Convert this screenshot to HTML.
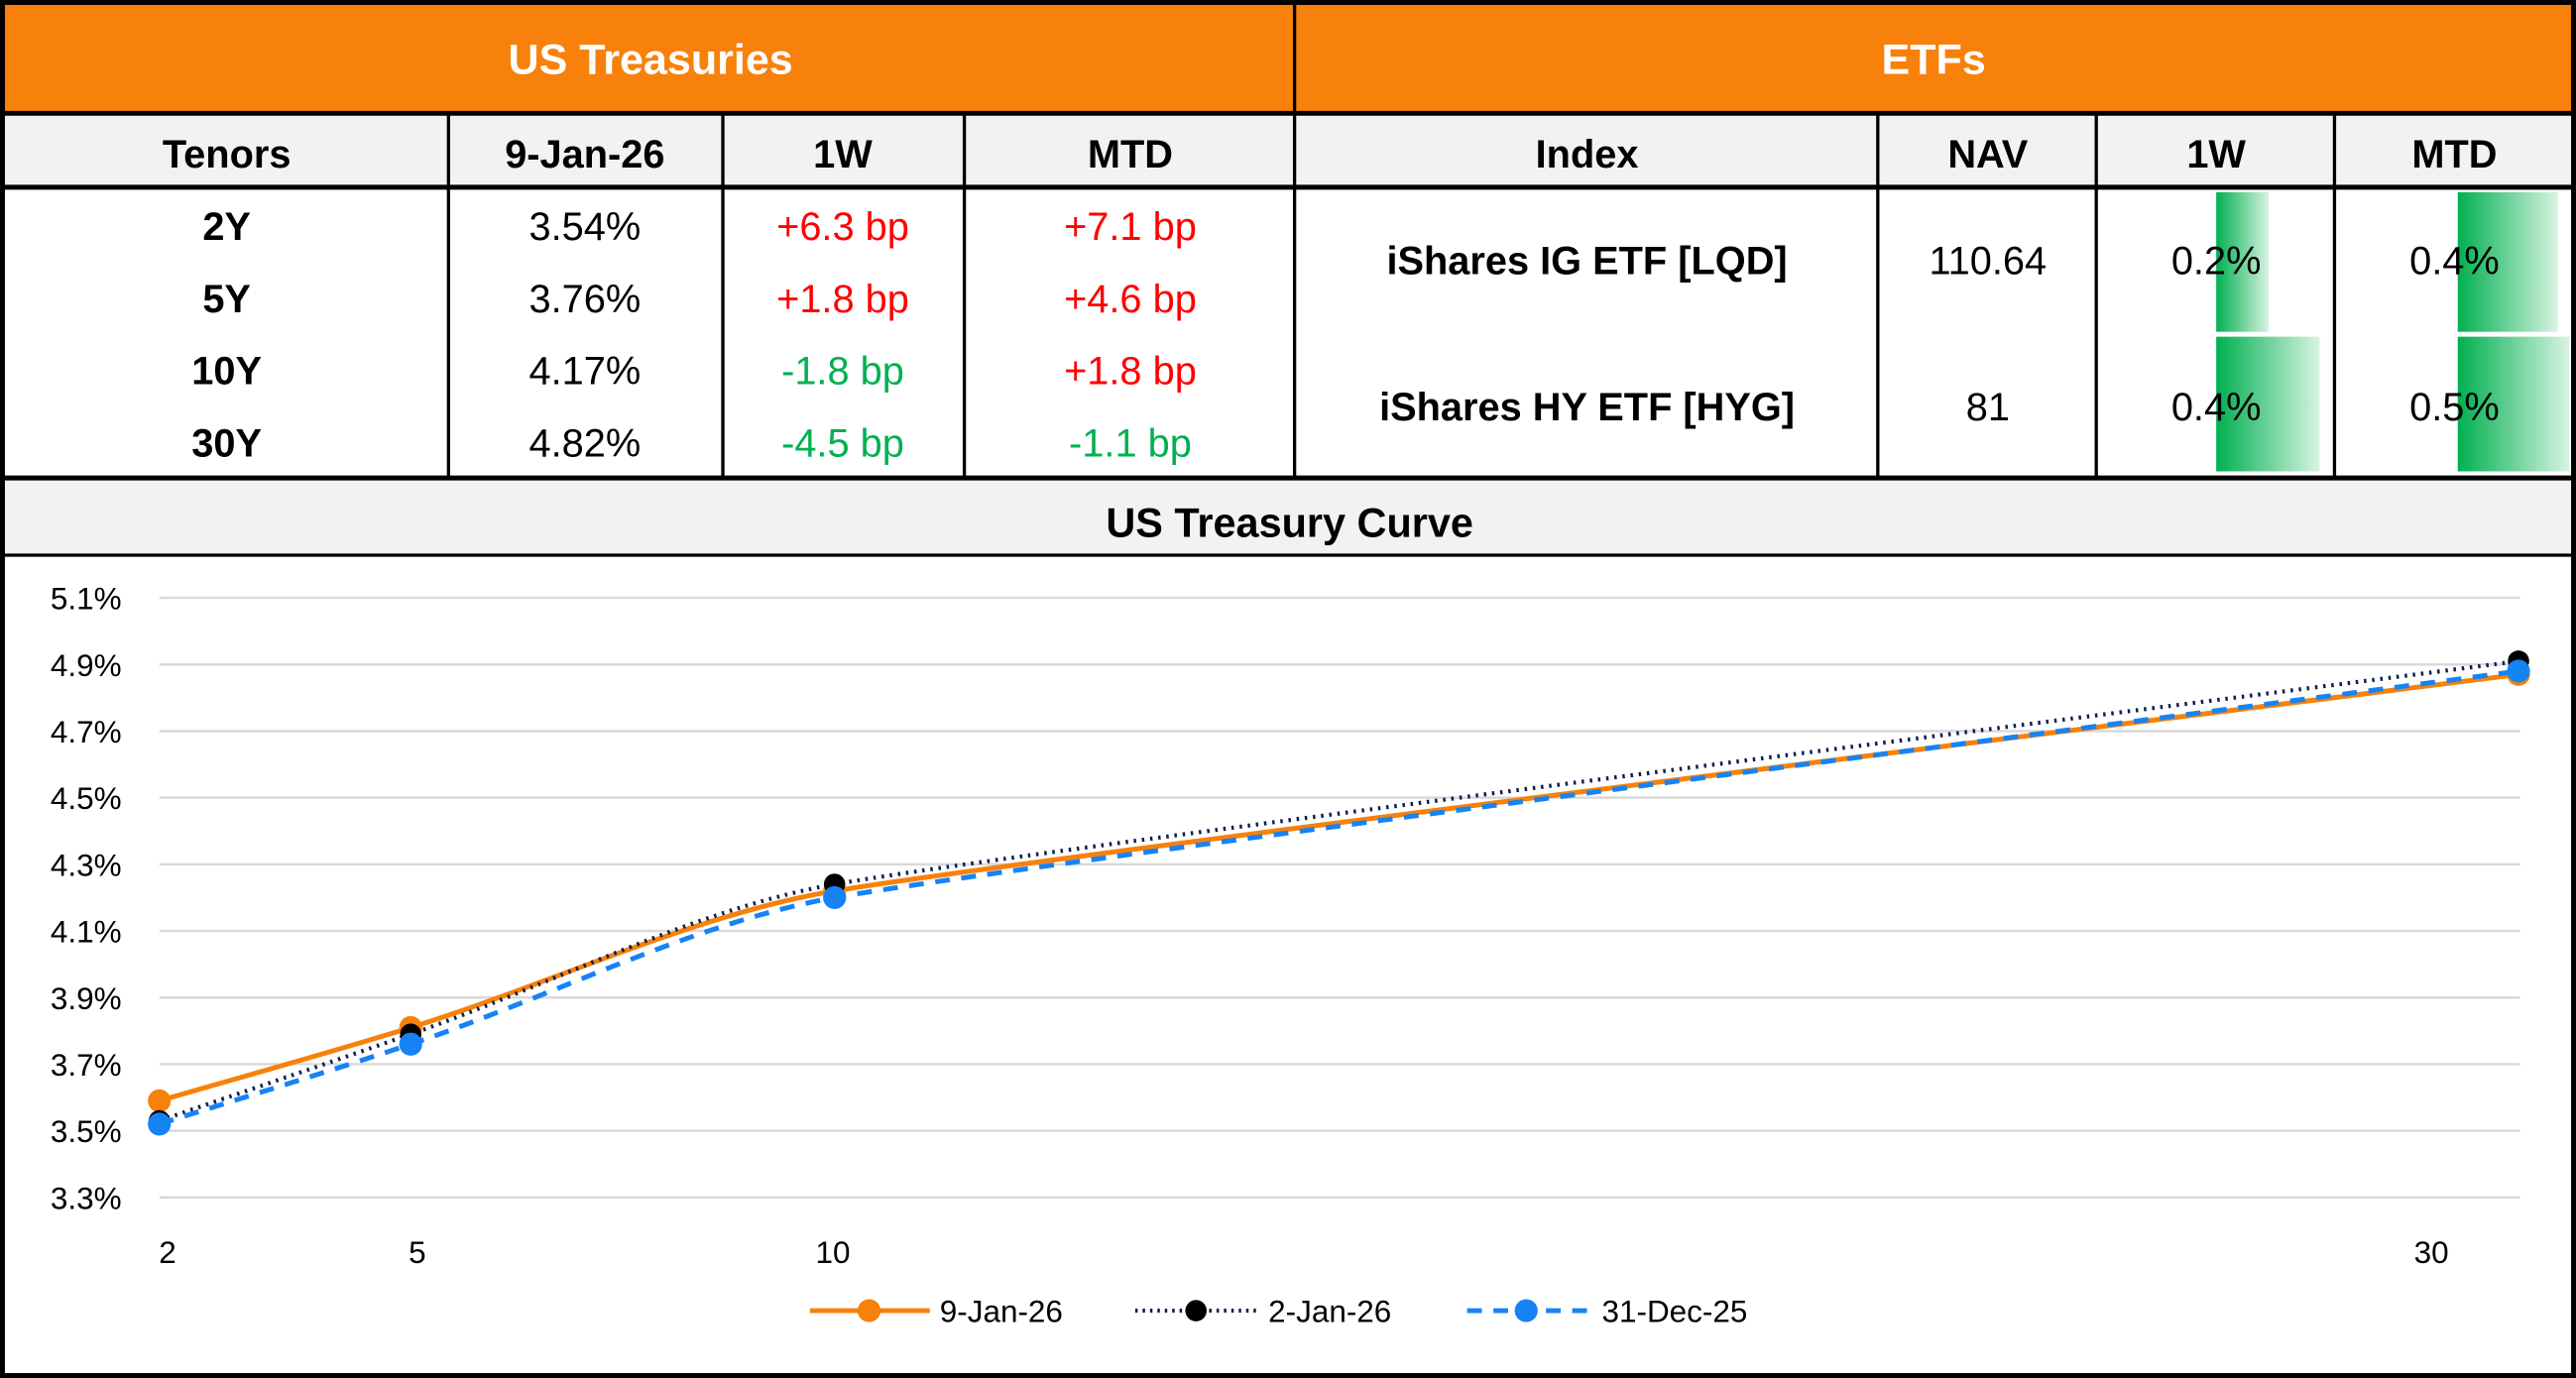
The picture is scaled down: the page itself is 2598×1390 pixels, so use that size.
<!DOCTYPE html>
<html><head><meta charset="utf-8"><style>
html,body{margin:0;padding:0;background:#fff;}
svg{display:block;}
text{font-family:"Liberation Sans",sans-serif;}
.h{font-weight:bold;font-size:24px;fill:#000;text-anchor:middle;}
.d{font-size:24px;fill:#000;text-anchor:middle;}
.r{fill:#ff0000;}
.g{fill:#00b050;}
.ax{font-size:19px;fill:#000;}
</style></head><body>
<svg width="2598" height="1390" viewBox="0 0 1568 839" preserveAspectRatio="none" xmlns="http://www.w3.org/2000/svg">
<defs>
<linearGradient id="gb" x1="0" x2="1" y1="0" y2="0">
<stop offset="0" stop-color="#00b050"/><stop offset="1" stop-color="#d8f3e2"/>
</linearGradient>
</defs>
<rect x="0" y="0" width="1568" height="839" fill="#fff"/>
<rect x="2" y="2" width="1564" height="66" fill="#f7810a"/>
<text x="396" y="45" class="h" style="fill:#fff;font-size:26px">US Treasuries</text>
<text x="1177" y="45" class="h" style="fill:#fff;font-size:26px">ETFs</text>
<rect x="2" y="69" width="1564" height="45" fill="#f2f2f2"/>
<text x="138" y="102" class="h">Tenors</text>
<text x="356" y="102" class="h">9-Jan-26</text>
<text x="513" y="102" class="h">1W</text>
<text x="688" y="102" class="h">MTD</text>
<text x="966" y="102" class="h">Index</text>
<text x="1210" y="102" class="h">NAV</text>
<text x="1349" y="102" class="h">1W</text>
<text x="1494" y="102" class="h">MTD</text>
<rect x="1349" y="117" width="32" height="85" fill="url(#gb)"/>
<rect x="1349" y="205" width="63" height="82" fill="url(#gb)"/>
<rect x="1496" y="117" width="61" height="85" fill="url(#gb)"/>
<rect x="1496" y="205" width="68" height="82" fill="url(#gb)"/>
<g class="d">
<text x="138" y="146" class="h">2Y</text><text x="356" y="146" class="d">3.54%</text><text x="513" y="146" class="d r">+6.3 bp</text><text x="688" y="146" class="d r">+7.1 bp</text>
<text x="138" y="190" class="h">5Y</text><text x="356" y="190" class="d">3.76%</text><text x="513" y="190" class="d r">+1.8 bp</text><text x="688" y="190" class="d r">+4.6 bp</text>
<text x="138" y="234" class="h">10Y</text><text x="356" y="234" class="d">4.17%</text><text x="513" y="234" class="d g">-1.8 bp</text><text x="688" y="234" class="d r">+1.8 bp</text>
<text x="138" y="278" class="h">30Y</text><text x="356" y="278" class="d">4.82%</text><text x="513" y="278" class="d g">-4.5 bp</text><text x="688" y="278" class="d g">-1.1 bp</text>
</g>
<text x="966" y="167" class="h">iShares IG ETF [LQD]</text>
<text x="1210" y="167" class="d">110.64</text>
<text x="1349" y="167" class="d">0.2%</text>
<text x="1494" y="167" class="d">0.4%</text>
<text x="966" y="256" class="h">iShares HY ETF [HYG]</text>
<text x="1210" y="256" class="d">81</text>
<text x="1349" y="256" class="d">0.4%</text>
<text x="1494" y="256" class="d">0.5%</text>
<rect x="2" y="292" width="1564" height="46" fill="#f2f2f2"/>
<text x="785" y="327" class="h" style="font-size:25px">US Treasury Curve</text>
<g stroke="#000" fill="none">
<line x1="0" y1="69" x2="1568" y2="69" stroke-width="3"/>
<line x1="0" y1="114" x2="1568" y2="114" stroke-width="3"/>
<line x1="0" y1="291" x2="1568" y2="291" stroke-width="3"/>
<line x1="0" y1="338" x2="1568" y2="338" stroke-width="2"/>
<line x1="788" y1="2" x2="788" y2="291" stroke-width="2"/>
<g stroke-width="2">
<line x1="273" y1="69" x2="273" y2="291"/><line x1="440" y1="69" x2="440" y2="291"/><line x1="587" y1="69" x2="587" y2="291"/>
<line x1="1143" y1="69" x2="1143" y2="291"/><line x1="1276" y1="69" x2="1276" y2="291"/><line x1="1421" y1="69" x2="1421" y2="291"/>
</g>
<rect x="1.5" y="1.5" width="1565" height="836" stroke-width="3"/>
</g>
<g stroke="#d9d9d9" stroke-width="1.5" id="grid"></g>
<g class="ax" id="ylab"></g>
<g class="ax">
<text x="102" y="769" text-anchor="middle">2</text>
<text x="254" y="769" text-anchor="middle">5</text>
<text x="507" y="769" text-anchor="middle">10</text>
<text x="1480" y="769" text-anchor="middle">30</text>
</g>
<g id="series"></g>
<g>
<line x1="493" y1="798" x2="566" y2="798" stroke="#f7810a" stroke-width="3"/>
<circle cx="529" cy="798" r="7" fill="#f7810a"/>
<text x="572" y="805" class="ax">9-Jan-26</text>
<line x1="691" y1="798" x2="765" y2="798" stroke="#0b1f4f" stroke-width="2.5" stroke-dasharray="1.5 3"/>
<circle cx="728" cy="798" r="6.5" fill="#000"/>
<text x="772" y="805" class="ax">2-Jan-26</text>
<line x1="893" y1="798" x2="966" y2="798" stroke="#1683f5" stroke-width="3" stroke-dasharray="9 7"/>
<circle cx="929" cy="798" r="7" fill="#1683f5"/>
<text x="975" y="805" class="ax">31-Dec-25</text>
</g>
<script>
(function(){
var NS="http://www.w3.org/2000/svg";
function Y(v){return 364+(5.1-v)/0.2*40.56;}
var grid=document.getElementById('grid'),yl=document.getElementById('ylab');
for(var i=0;i<10;i++){var v=5.1-0.2*i,y=Y(v);
 var l=document.createElementNS(NS,'line');l.setAttribute('x1',97);l.setAttribute('x2',1534);l.setAttribute('y1',y);l.setAttribute('y2',y);grid.appendChild(l);
 var t=document.createElementNS(NS,'text');t.setAttribute('x',74);t.setAttribute('y',y+7);t.setAttribute('text-anchor','end');t.textContent=v.toFixed(1)+'%';yl.appendChild(t);}
var X=[97,250,508,1533];
var S=[
 {v:[3.59,3.81,4.22,4.87],c:'#f7810a',w:3,d:'',m:'#f7810a',r:7},
 {v:[3.53,3.79,4.24,4.91],c:'#0b1f4f',w:2.5,d:'1.5 3.5',m:'#000',r:6.5},
 {v:[3.52,3.76,4.20,4.88],c:'#1683f5',w:3,d:'9 7',m:'#1683f5',r:7}
];
var g=document.getElementById('series');
S.forEach(function(s){
 var P=s.v.map(function(v,i){return [X[i],Y(v)];});
 var sl=[];
 for(var i=0;i<4;i++){
  var a=P[Math.max(0,i-1)],b=P[Math.min(3,i+1)];sl.push((b[1]-a[1])/(b[0]-a[0]));}
 var d='M'+P[0][0]+','+P[0][1];
 for(var i=0;i<3;i++){var dx=(P[i+1][0]-P[i][0]);
  var k1=Math.min(dx/3,120),k2=Math.min(dx/3,120);
  d+=' C'+(P[i][0]+k1)+','+(P[i][1]+sl[i]*k1)+' '+(P[i+1][0]-k2)+','+(P[i+1][1]-sl[i+1]*k2)+' '+P[i+1][0]+','+P[i+1][1];}
 var p=document.createElementNS(NS,'path');p.setAttribute('d',d);p.setAttribute('fill','none');p.setAttribute('stroke',s.c);p.setAttribute('stroke-width',s.w);if(s.d)p.setAttribute('stroke-dasharray',s.d);g.appendChild(p);
 P.forEach(function(q){var c=document.createElementNS(NS,'circle');c.setAttribute('cx',q[0]);c.setAttribute('cy',q[1]);c.setAttribute('r',s.r);c.setAttribute('fill',s.m);g.appendChild(c);});
});
})();
</script>
</svg>
</body></html>
